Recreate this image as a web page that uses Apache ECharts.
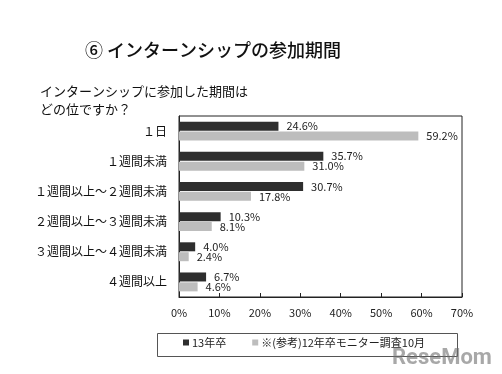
<!DOCTYPE html>
<html><head><meta charset="utf-8">
<script src="https://cdn.jsdelivr.net/npm/echarts@6/dist/echarts.min.js"></script>
<style>html,body{margin:0;padding:0;background:#fff}#c{width:502px;height:374px}</style>
</head><body><div id="c"></div>
<script>
const categories = ['１日','１週間未満','１週間以上～２週間未満','２週間以上～３週間未満','３週間以上～４週間未満','４週間以上'];
const series13 = [24.6, 35.7, 30.7, 10.3, 4.0, 6.7];
const series12 = [59.2, 31.0, 17.8, 8.1, 2.4, 4.6];
const seriesNames = ['13年卒','※(参考)12年卒モニター調査10月'];
const xTicks = [0,10,20,30,40,50,60,70];

const F = '"Noto Sans CJK JP", "Noto Sans", sans-serif';
const chart = echarts.init(document.getElementById('c'), null, {renderer:'canvas'});
chart.setOption({
  animation:false,
  textStyle:{fontFamily:F},
  title:[
    {text:'⑥ インターンシップの参加期間', left:85, top:41, padding:0, textStyle:{fontSize:18, fontWeight:500, color:'#111', fontFamily:F}},
    {text:'インターンシップに参加した期間は\nどの位ですか？', left:40, top:82, padding:0, textStyle:{fontSize:13, fontWeight:'normal', color:'#111', lineHeight:18, fontFamily:F}}
  ],
  grid:{left:179, right:40, top:116, bottom:77, show:true, borderColor:'#222', borderWidth:1, containLabel:false},
  xAxis:{type:'value', min:xTicks[0], max:xTicks[xTicks.length-1], interval:10,
    axisLabel:{formatter:'{value}%', color:'#222', fontSize:11, margin:10},
    axisLine:{show:true, lineStyle:{color:'#222'}},
    axisTick:{show:true, inside:true, length:4, lineStyle:{color:'#222'}},
    splitLine:{show:false}},
  yAxis:{type:'category', data:categories, inverse:true,
    axisLabel:{color:'#111', fontSize:12, margin:12},
    axisLine:{show:true, lineStyle:{color:'#222'}},
    axisTick:{show:false}},
  legend:{data:seriesNames, left:183, top:337, padding:0, itemWidth:6, itemHeight:6, itemGap:26, icon:'rect',
    textStyle:{fontSize:11, color:'#222', fontFamily:F, padding:[0,0,0,-2]}},
  graphic:[
    {type:'rect', shape:{x:157.5, y:333.5, width:300, height:23}, style:{fill:'none', stroke:'#555', lineWidth:1}, z:-1},
    {type:'text', left:392, top:347, style:{text:'ReseMom', fontSize:22, fontWeight:'bold', fill:'rgba(110,110,110,0.6)', fontFamily:'Roboto, sans-serif'}}
  ],
  series:[
    {name:seriesNames[0], type:'bar', data:series13, barWidth:9, barGap:'10%',
      itemStyle:{color:'#2e2e2e'},
      label:{show:true, position:'right', distance:8, formatter:p=>p.value.toFixed(1)+'%', color:'#222', fontSize:11}},
    {name:seriesNames[1], type:'bar', data:series12, barWidth:9,
      itemStyle:{color:'#bdbdbd'},
      label:{show:true, position:'right', distance:8, formatter:p=>p.value.toFixed(1)+'%', color:'#222', fontSize:11}}
  ]
});
</script></body></html>
